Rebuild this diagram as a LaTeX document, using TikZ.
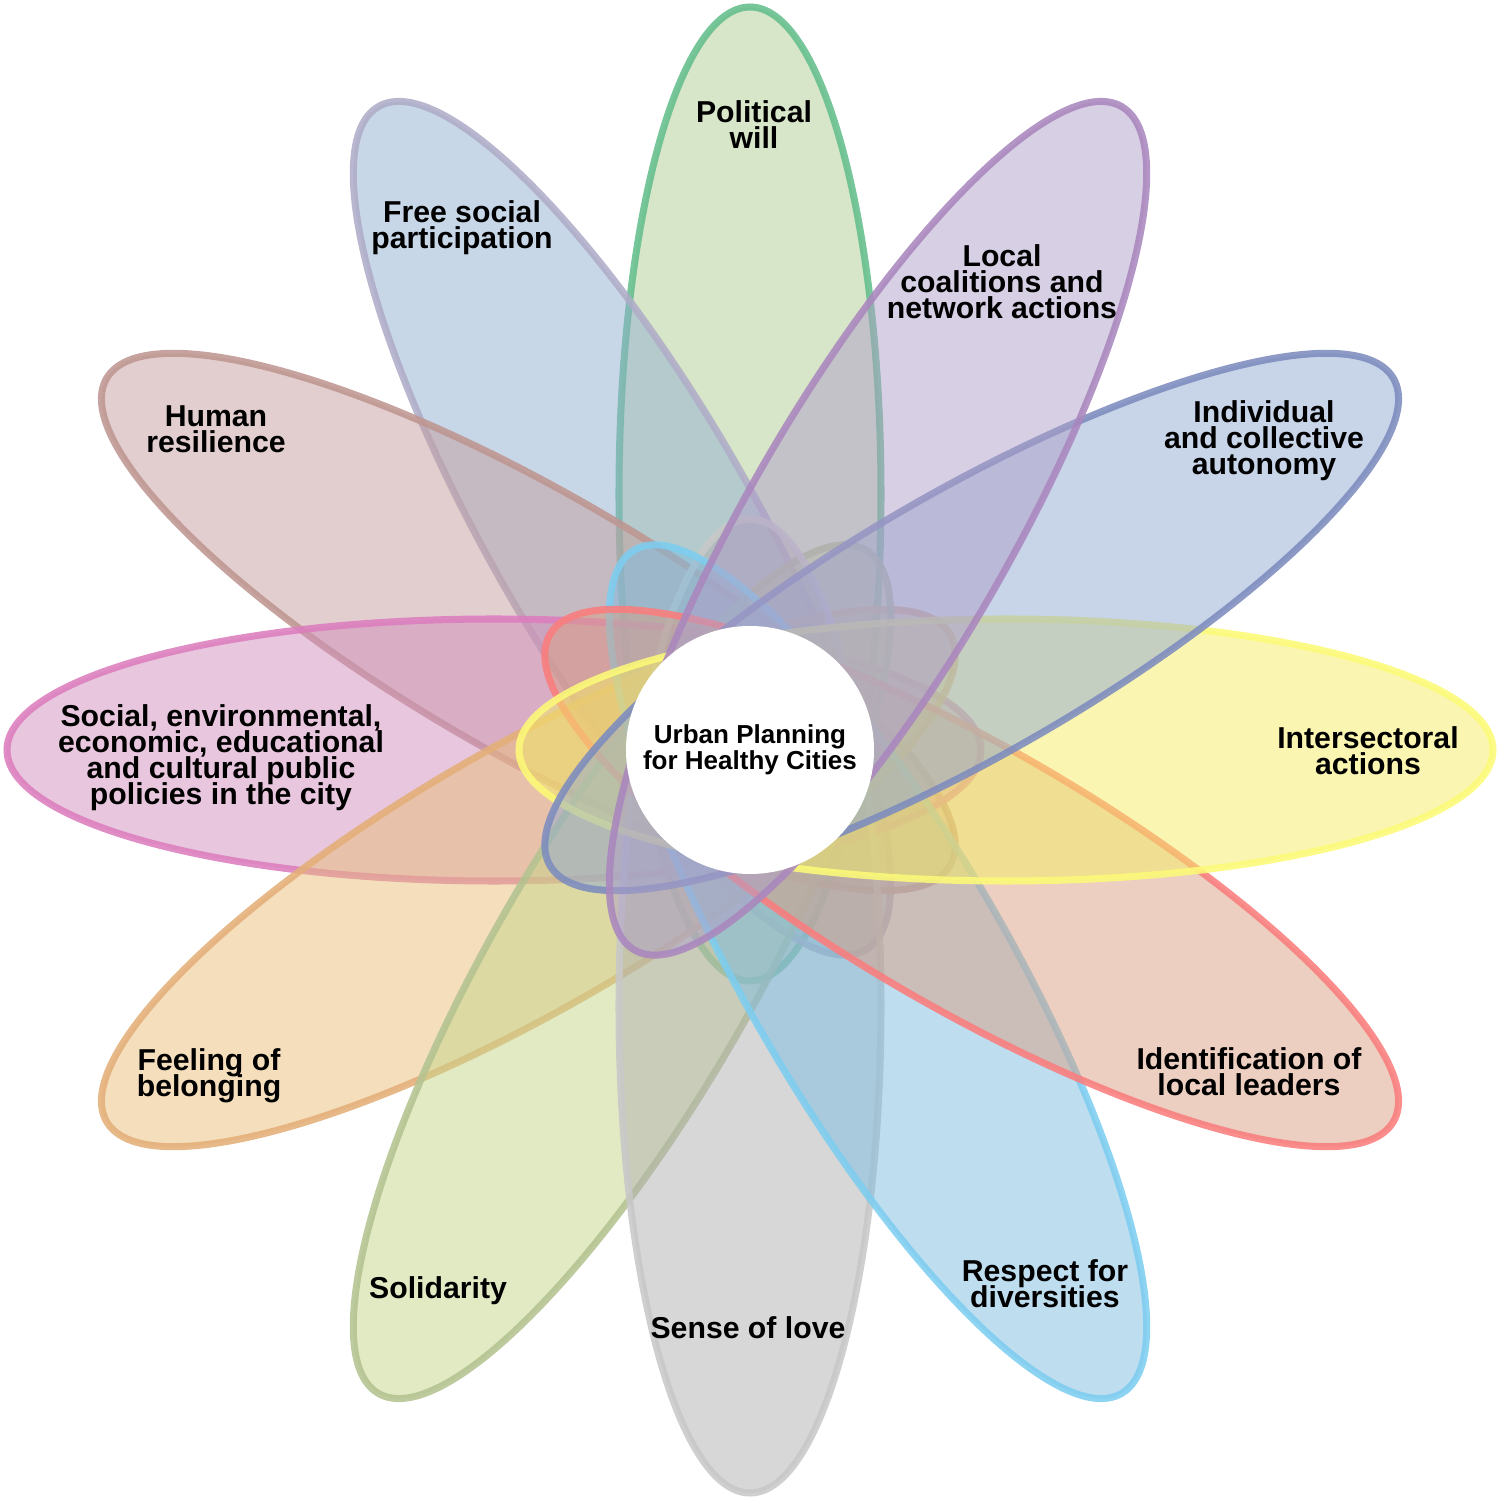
\documentclass[tikz,border=0pt]{standalone}
\usepackage{fontspec}
\setmainfont{Liberation Sans}

\definecolor{willline}{RGB}{100,190,140}
\definecolor{willfill}{RGB}{175,205,145}
\definecolor{freeline}{RGB}{175,172,200}
\definecolor{freefill}{RGB}{145,175,209}
\definecolor{resilline}{RGB}{190,150,145}
\definecolor{resilfill}{RGB}{197,157,157}
\definecolor{policyline}{RGB}{220,125,190}
\definecolor{policyfill}{RGB}{209,143,189}
\definecolor{belongline}{RGB}{228,175,120}
\definecolor{belongfill}{RGB}{233,189,121}
\definecolor{solidline}{RGB}{180,195,145}
\definecolor{solidfill}{RGB}{197,213,137}
\definecolor{loveline}{RGB}{200,200,200}
\definecolor{lovefill}{RGB}{175,175,175}
\definecolor{respectline}{RGB}{125,205,240}
\definecolor{respectfill}{RGB}{125,189,225}
\definecolor{leaderline}{RGB}{250,125,125}
\definecolor{leaderfill}{RGB}{217,159,131}
\definecolor{interline}{RGB}{252,250,120}
\definecolor{interfill}{RGB}{245,237,101}
\definecolor{autonline}{RGB}{125,140,190}
\definecolor{autonfill}{RGB}{145,169,209}
\definecolor{coalline}{RGB}{170,135,190}
\definecolor{coalfill}{RGB}{175,159,201}

\newcommand{\tightlines}{\lineskiplimit=-10pt\relax}

\tikzstyle{petal} = [line width=2pt, fill opacity=0.5, draw opacity=0.88]
\tikzstyle{petaltext} = [font=\bfseries\fontsize{8.6}{7.4}\selectfont\tightlines, align=center, inner sep=0pt]
\tikzstyle{hub} = [circle, fill=white, minimum size=2.48cm, inner sep=0pt, align=center, font=\bfseries\fontsize{7.4}{7.4}\selectfont\tightlines]

\begin{document}
\begin{tikzpicture}
      \useasboundingbox (0,0) rectangle (15,15);
      \coordinate (c) at (7.5,7.5);
      %petals
      \begin{scope}[shift={(c)}]
      \foreach \name/\angle in {
        will/90, free/120, resil/150, policy/180, belong/210, solid/240,
        love/270, respect/300, leader/330, inter/0, auton/30, coal/60}
      {
        \draw[petal, draw=\name line, fill=\name fill, rotate=\angle] (2.56,0) ellipse (4.87 and 1.31);
      };
      \end{scope}
      %centre
      \node[hub] (hub) at (c) {Urban Planning\\for Healthy Cities};
      %texts
      \foreach \name/\x/\y/\text in {
        will/7.54/13.75/{Political\\will},
        free/4.62/12.72/{Free social\\participation},
        coal/10.02/12.18/{Local\\coalitions and\\network actions},
        resil/2.16/10.71/{Human\\resilience},
        auton/12.64/10.59/{Individual\\and collective\\autonomy},
        policy/2.21/7.42/{Social, environmental,\\economic, educational\\and cultural public\\policies in the city},
        inter/13.68/7.49/{Intersectoral\\actions},
        belong/2.09/4.24/{Feeling of\\belonging},
        solid/4.38/2.09/{Solidarity},
        love/7.48/1.72/{Sense of love},
        respect/10.45/2.16/{Respect for\\diversities},
        leader/12.49/4.28/{Identification of\\local leaders}}
      {
        \node[petaltext] (\name) at (\x,\y) {\text};
      };
\end{tikzpicture}
\end{document}
